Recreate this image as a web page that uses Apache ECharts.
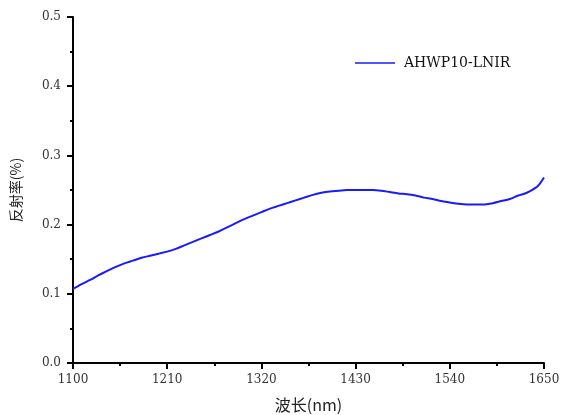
<!DOCTYPE html>
<html><head><meta charset="utf-8">
<script src="https://cdn.jsdelivr.net/npm/echarts@6/dist/echarts.min.js"></script>
<style>html,body{margin:0;padding:0;background:#fff}#c{width:561px;height:415px}</style>
</head><body><div id="c"></div>
<script>
const wavelengths = [1100,1110,1120,1130,1140,1150,1160,1170,1180,1190,1200,1210,1220,1230,1240,1250,1260,1270,1280,1290,1300,1310,1320,1330,1340,1350,1360,1370,1380,1390,1400,1410,1420,1430,1440,1450,1460,1470,1480,1490,1500,1510,1520,1530,1540,1550,1560,1570,1580,1590,1600,1610,1620,1630,1640,1645,1650];
const reflectance = [0.107,0.114,0.120,0.127,0.133,0.139,0.144,0.148,0.152,0.155,0.158,0.161,0.165,0.170,0.175,0.180,0.185,0.190,0.196,0.202,0.208,0.213,0.218,0.223,0.227,0.231,0.235,0.239,0.243,0.246,0.248,0.249,0.250,0.250,0.250,0.250,0.249,0.247,0.245,0.244,0.242,0.239,0.237,0.234,0.232,0.230,0.229,0.229,0.229,0.231,0.234,0.237,0.242,0.246,0.253,0.259,0.268];
const seriesName = 'AHWP10-LNIR';
const xTitle = '波长(nm)';
const yTitle = '反射率(%)';

const chart = echarts.init(document.getElementById('c'));
const font = '"DejaVu Serif", "Noto Sans CJK SC", serif';
const cjkFont = '"Noto Sans CJK SC", "DejaVu Serif", serif';
chart.setOption({
  animation: false,
  grid: {left: 73, right: 17, top: 17, bottom: 52, containLabel: false, outerBoundsMode: 'none'},
  legend: {
    left: 350, top: 51, itemWidth: 40, itemHeight: 14, itemGap: 10,
    icon: 'path://M0,6L40,6L40,7.5L0,7.5Z',
    textStyle: {fontFamily: font, fontSize: 14, color: '#111', padding: [0, 0, 0, 4]},
    data: [seriesName]
  },
  xAxis: {
    type: 'value', min: 1100, max: 1650, interval: 110,
    name: xTitle, nameLocation: 'middle', nameGap: 34,
    nameTextStyle: {fontFamily: cjkFont, fontSize: 16, color: '#222'},
    axisLine: {show: true, lineStyle: {color: '#000', width: 2}},
    axisTick: {show: true, length: 6, lineStyle: {color: '#000', width: 2}},
    minorTick: {show: true, splitNumber: 2, length: 3, lineStyle: {color: '#000', width: 2}},
    splitLine: {show: false},
    axisLabel: {fontFamily: font, fontSize: 12, color: '#333', margin: 11,
      formatter: v => String(v)}
  },
  yAxis: {
    type: 'value', min: 0, max: 0.5, interval: 0.1,
    name: yTitle, nameLocation: 'middle', nameGap: 50, nameRotate: 90,
    nameTextStyle: {fontFamily: cjkFont, fontSize: 14, color: '#222'},
    axisLine: {show: true, lineStyle: {color: '#000', width: 2}},
    axisTick: {show: true, length: 6, lineStyle: {color: '#000', width: 2}},
    minorTick: {show: true, splitNumber: 2, length: 3, lineStyle: {color: '#000', width: 2}},
    splitLine: {show: false},
    axisLabel: {fontFamily: font, fontSize: 12, color: '#333', margin: 12,
      formatter: v => v.toFixed(1)}
  },
  series: [{
    name: seriesName, type: 'line', showSymbol: false, smooth: 0.3,
    data: wavelengths.map((w, i) => [w, reflectance[i]]),
    lineStyle: {color: '#1a1aff', width: 2},
    itemStyle: {color: '#1a1aff'}
  }]
});
</script></body></html>
